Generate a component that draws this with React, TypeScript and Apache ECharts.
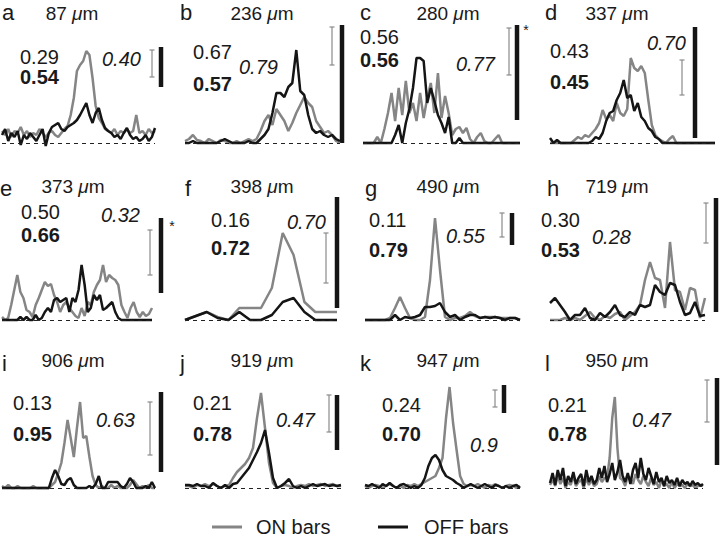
import React, { useEffect, useRef } from "react";
import * as echarts from "echarts";

const FONT = '"Liberation Sans", Arial, Helvetica, sans-serif';

// ---------- text content ----------
const panelLetters = ["a", "b", "c", "d", "e", "f", "g", "h", "i", "j", "k", "l"];
const depths = ["87", "236", "280", "337", "373", "398", "490", "719", "906", "919", "947", "950"];
const plainValues = ["0.29", "0.67", "0.56", "0.43", "0.50", "0.16", "0.11", "0.30", "0.13", "0.21", "0.24", "0.21"];
const boldValues = ["0.54", "0.57", "0.56", "0.45", "0.66", "0.72", "0.79", "0.53", "0.95", "0.78", "0.70", "0.78"];
const italicValues = ["0.40", "0.79", "0.77", "0.70", "0.32", "0.70", "0.55", "0.28", "0.63", "0.47", "0.9", "0.47"];
const legendNames = ["ON bars", "OFF bars"];

// ---------- series values (response above baseline) ----------
const onA = [12,8,14,6,12,10,16,8,12,6,10,8,14,10,6,10,12,8,6,10,14,17,28,45,72,78,82,92,88,65,37,25,20,14,12,10,14,8,12,10,14,10,12,28,10,12,8,14,10,12];
const offA = [8,14,2,10,6,12,-2,8,4,10,6,2,8,14,-3,10,16,18,20,14,12,16,18,20,23,28,34,40,28,20,30,35,23,15,12,10,6,8,4,10,15,8,4,6,2,4,8,2,6,15];
const onB = [2,4,8,3,2,0,4,2,0,3,2,0,0,2,0,2,4,2,4,12,22,28,18,34,28,22,12,20,30,38,46,40,36,22,16,10,12,8,2,0];
const offB = [0,0,2,0,0,0,0,0,0,2,4,2,0,0,0,0,2,0,0,4,8,14,30,50,50,46,56,60,93,52,48,28,14,10,12,8,6,8,4,2];
const onC = [0,0,0,0,6,0,14,30,50,22,55,28,62,30,40,22,50,25,45,60,30,70,25,47,30,8,14,16,10,15,4,0,6,10,2,0,0,4,8,0,0,0,0,0,0];
const offC = [0,0,0,0,0,0,0,0,0,8,18,0,20,34,55,85,85,82,40,55,42,28,20,10,26,0,0,5,0,0,0,0,0,0,0,0,0,0,0,0,0,0,0,0,0];
const onD = [0,0,0,0,0,0,0,3,6,4,8,6,10,14,20,33,24,28,22,40,30,27,34,85,75,72,77,70,43,18,8,4,2,0,4,7,0,0,0,0,0,0,0,0,0,0,0,0];
const offD = [5,0,3,0,0,0,0,0,0,0,0,0,2,6,4,10,22,30,32,43,50,63,45,48,32,40,26,22,15,12,6,4,0,0,0,0,0,0,0,0,0,0,0,0,0,0,0,0];
const onE = [3,0,2,15,30,45,28,22,10,8,3,15,22,30,38,34,36,25,18,8,15,18,12,8,4,2,12,4,18,15,28,35,40,55,38,45,42,40,35,15,8,2,12,18,8,3,8,4,6,12];
const offE = [0,0,0,0,0,0,3,0,3,0,0,5,0,2,8,12,8,20,22,18,20,22,8,22,18,30,55,35,8,12,25,20,25,10,12,15,18,8,2,0,0,0,0,0,0,0,0,0,0,0];
const onF = [0,4,8,3,0,12,12,12,32,87,65,18,8,8,8];
const offF = [0,4,8,2,0,8,0,0,5,18,22,8,0,0,0];
const onG = [0,0,0,0,0,2,12,23,12,2,0,0,3,40,102,50,3,0,2,2,4,8,4,2,3,3,3,2,2,2,2,0];
const offG = [0,0,0,0,0,0,5,0,3,2,3,5,13,13,14,17,8,3,5,0,3,5,5,2,3,2,3,2,0,2,2,0];
const onH = [0,0,0,2,0,2,0,4,8,2,0,4,2,6,8,0,4,8,15,40,58,42,40,12,78,30,28,10,32,30,2,22];
const offH = [17,22,15,8,0,5,5,12,2,0,7,3,8,15,5,3,8,5,15,13,15,35,28,25,37,35,18,5,7,18,4,5];
const onI = [2,0,3,0,0,2,0,0,0,0,2,0,0,0,0,0,3,6,15,25,45,68,50,31,60,86,50,52,31,12,3,0,2,0,0,3,0,2,0,0,0,3,8,4,0,2,0,3,0,0];
const offI = [0,0,0,0,0,0,0,0,0,0,0,0,0,0,0,0,10,18,12,4,3,8,10,3,0,0,0,0,2,0,4,12,0,0,6,6,6,6,2,0,4,10,6,0,0,0,2,0,6,0];
const onJ = [2,2,0,3,2,4,2,4,2,0,2,3,10,16,20,24,30,40,70,95,60,25,5,0,2,3,2,0,2,3,2,4,2,3,4,2,3,4,2,2];
const offJ = [3,3,2,4,2,2,0,5,2,0,3,0,4,5,10,15,20,28,36,45,58,35,10,0,2,5,9,2,0,2,0,2,4,2,3,4,2,3,2,3];
const onK = [2,0,2,3,2,0,2,4,2,0,2,0,3,2,4,2,4,6,8,10,12,20,30,70,101,65,38,12,4,2,3,2,4,2,0,3,2,4,2,0,2,3,2,0,2];
const offK = [3,2,4,2,0,4,2,5,2,0,3,4,2,0,2,0,3,10,22,30,33,28,18,12,10,8,5,3,0,2,4,2,0,2,4,2,0,3,2,0,2,0,2,3,0];
const onL = [3,8,2,12,4,10,0,6,3,12,2,6,8,0,10,3,8,2,4,12,6,10,10,30,70,91,40,10,8,2,12,10,4,14,8,4,12,6,2,10,3,6,0,8,2,4,0,6,0,4,2,3,0,4,2,3,0,2,3,2];
const offL = [5,15,3,18,8,20,2,12,6,16,4,10,14,2,18,6,12,4,8,20,10,22,6,14,25,8,16,28,12,6,15,4,18,25,10,30,14,8,20,12,4,16,6,10,2,12,5,8,3,10,2,8,4,6,2,7,3,5,2,4];

const onSeries = [onA, onB, onC, onD, onE, onF, onG, onH, onI, onJ, onK, onL];
const offSeries = [offA, offB, offC, offD, offE, offF, offG, offH, offI, offJ, offK, offL];

// ---------- layout (pixels) ----------
const rows = [
  { base: 143, ymax: 100, letterY: 12, titleY: 13 },
  { base: 320, ymax: 110, letterY: 188, titleY: 186 },
  { base: 488, ymax: 110, letterY: 363, titleY: 360 },
];
const plotX = [
  [2, 155], [185, 340], [363, 520], [550, 715],
  [2, 152], [185, 337], [365, 520], [550, 705],
  [2, 155], [185, 341], [365, 520], [550, 703],
];
const letterX = [2, 180, 360, 545, 0, 185, 365, 547, 2, 180, 360, 545];
const titleX = [72, 262, 448, 617, 73, 262, 448, 617, 73, 262, 448, 617];
// [x, y] of the plain, bold and italic numbers
const plainPos = [[20,57],[193,52],[360,37],[550,51],[21,212],[211,220],[369,220],[541,220],[13,403],[193,403],[382,405],[548,405]];
const boldPos = [[20,77],[193,84],[360,60],[550,82],[21,235],[211,248],[369,250],[541,250],[13,434],[193,434],[382,434],[548,434]];
const italicPos = [[102,59],[239,67],[456,64],[647,43],[101,215],[287,222],[446,236],[592,237],[96,420],[276,420],[470,445],[632,420]];
// scale bars: [x, top, bottom]
const grayBars = [[152,50,77],[332,27,65],[509,28,75],[682,60,95],[150,230,275],[326,233,283],[502,213,237],[706,203,243],[150,402,455],[329,395,432],[495,390,407],[707,380,422]];
const blackBars = [[161,47,87],[342,25,143],[517,25,120],[695,27,138],[161,218,293],[337,197,308],[512,213,245],[716,198,312],[161,392,472],[337,395,450],[504,385,413],[717,378,465]];
const asterisks = [[526, 30], [172, 226]];

const GRAY = "#858585";
const BLACK = "#151515";
const TEXT = "#1a1a1a";

function buildOption() {
  const grid: any[] = [];
  const xAxis: any[] = [];
  const yAxis: any[] = [];
  const series: any[] = [];
  const graphic: any[] = [];

  for (let k = 0; k < 12; k++) {
    const row = rows[Math.floor(k / 4)];
    const [x0, x1] = plotX[k];
    const n = onSeries[k].length;
    grid.push({ left: x0, width: x1 - x0, top: row.base - row.ymax, height: row.ymax + 5 });
    xAxis.push({ type: "value", gridIndex: k, min: 0, max: n - 1, show: false });
    yAxis.push({ type: "value", gridIndex: k, min: -5, max: row.ymax, show: false });
    series.push({
      type: "line",
      name: legendNames[0],
      xAxisIndex: k,
      yAxisIndex: k,
      data: onSeries[k].map((v, i) => [i, v]),
      symbol: "none",
      lineStyle: { color: GRAY, width: 2.5 },
      itemStyle: { color: GRAY },
      markLine: {
        silent: true,
        symbol: ["none", "none"],
        label: { show: false },
        lineStyle: { color: "#222", width: 1, type: [4, 4] },
        data: [{ yAxis: 0 }],
      },
    });
    series.push({
      type: "line",
      name: legendNames[1],
      xAxisIndex: k,
      yAxisIndex: k,
      data: offSeries[k].map((v, i) => [i, v]),
      symbol: "none",
      lineStyle: { color: BLACK, width: 2.5 },
      itemStyle: { color: BLACK },
    });

    // panel letter
    graphic.push({
      type: "text",
      x: letterX[k],
      y: row.letterY,
      style: { text: panelLetters[k], font: `22px ${FONT}`, fill: TEXT, textVerticalAlign: "middle", verticalAlign: "middle" },
    });
    // depth title
    graphic.push({
      type: "text",
      x: titleX[k],
      y: row.titleY,
      style: {
        text: `{n|${depths[k]} }{u|\u03bc}{n|m}`,
        rich: {
          n: { font: `19px ${FONT}`, fill: TEXT },
          u: { font: `italic 19px ${FONT}`, fill: TEXT },
        },
        textAlign: "center",
        align: "center",
        textVerticalAlign: "middle",
        verticalAlign: "middle",
      },
    });
    // numbers
    const nums: [string, number[], string][] = [
      [plainValues[k], plainPos[k], `20px ${FONT}`],
      [boldValues[k], boldPos[k], `bold 20px ${FONT}`],
      [italicValues[k], italicPos[k], `italic 20px ${FONT}`],
    ];
    nums.forEach(([t, p, f]) => {
      graphic.push({
        type: "text",
        x: p[0],
        y: p[1],
        style: { text: t, font: f, fill: TEXT, textVerticalAlign: "middle", verticalAlign: "middle" },
      });
    });
    // gray scale bar with caps
    const g = grayBars[k];
    graphic.push({ type: "line", shape: { x1: g[0], y1: g[1], x2: g[0], y2: g[2] }, style: { stroke: "#8a8a8a", lineWidth: 1.2 } });
    graphic.push({ type: "line", shape: { x1: g[0] - 2.5, y1: g[1], x2: g[0] + 2.5, y2: g[1] }, style: { stroke: "#8a8a8a", lineWidth: 1.2 } });
    graphic.push({ type: "line", shape: { x1: g[0] - 2.5, y1: g[2], x2: g[0] + 2.5, y2: g[2] }, style: { stroke: "#8a8a8a", lineWidth: 1.2 } });
    // black scale bar
    const b = blackBars[k];
    graphic.push({ type: "rect", shape: { x: b[0] - 2.25, y: b[1], width: 4.5, height: b[2] - b[1] }, style: { fill: BLACK } });
  }

  asterisks.forEach(([x, y]) => {
    graphic.push({
      type: "text",
      x,
      y,
      style: { text: "*", font: `14px ${FONT}`, fill: TEXT, textAlign: "center", align: "center", textVerticalAlign: "middle", verticalAlign: "middle" },
    });
  });

  // legend
  const legY = 527;
  graphic.push({ type: "line", shape: { x1: 212, y1: legY, x2: 242, y2: legY }, style: { stroke: GRAY, lineWidth: 3 } });
  graphic.push({ type: "text", x: 256, y: legY, style: { text: legendNames[0], font: `20px ${FONT}`, fill: TEXT, textVerticalAlign: "middle", verticalAlign: "middle" } });
  graphic.push({ type: "line", shape: { x1: 378, y1: legY, x2: 408, y2: legY }, style: { stroke: BLACK, lineWidth: 3 } });
  graphic.push({ type: "text", x: 424, y: legY, style: { text: legendNames[1], font: `20px ${FONT}`, fill: TEXT, textVerticalAlign: "middle", verticalAlign: "middle" } });

  return {
    animation: false,
    backgroundColor: "#ffffff",
    grid,
    xAxis,
    yAxis,
    series,
    graphic,
  };
}

export default function App() {
  const ref = useRef<HTMLDivElement>(null);
  useEffect(() => {
    if (!ref.current) return;
    const chart = echarts.init(ref.current, null, { renderer: "svg" });
    chart.setOption(buildOption() as any);
    return () => chart.dispose();
  }, []);
  return <div ref={ref} style={{ position: "absolute", left: 0, top: 0, width: 720, height: 542 }} />;
}
